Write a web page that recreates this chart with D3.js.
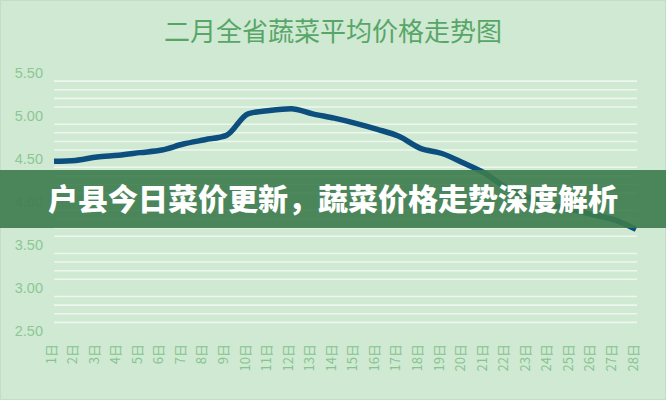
<!DOCTYPE html>
<html><head><meta charset="utf-8">
<script src="https://cdn.jsdelivr.net/npm/d3@7"></script>
<style>
html,body{margin:0;padding:0;background:#d0e9d3;}
svg{display:block;}
</style></head>
<body>
<svg id="chart" width="666" height="400"></svg>
<script>
const title = "二月全省蔬菜平均价格走势图";
const banner = "户县今日菜价更新，蔬菜价格走势深度解析";
const days = ["1日","2日","3日","4日","5日","6日","7日","8日","9日","10日","11日","12日","13日","14日","15日","16日","17日","18日","19日","20日","21日","22日","23日","24日","25日","26日","27日","28日"];
const prices = [4.47,4.48,4.52,4.54,4.57,4.60,4.67,4.72,4.77,5.02,5.06,5.08,5.02,4.97,4.91,4.84,4.76,4.62,4.56,4.45,4.33,4.16,4.05,3.97,3.91,3.85,3.79,3.68];
const yTicks = [2.5,3.0,3.5,4.0,4.5,5.0,5.5];
const minorTicks = [2.6,2.7,2.8,2.9,3.1,3.2,3.3,3.4,3.6,3.7,3.8,3.9,4.1,4.2,4.3,4.4,4.6,4.7,4.8,4.9,5.1,5.2,5.3,5.4];

const svg = d3.select("#chart");
const W = 666, H = 400;
svg.append("rect").attr("x",0.5).attr("y",0.5).attr("width",W-1).attr("height",H-1)
  .attr("fill","#d0e9d3").attr("stroke","#c6dcc8");

const x = d3.scalePoint().domain(days).range([54, 636]);
const y = d3.scaleLinear().domain([2.5, 5.5]).range([331, 72.5]);

// minor white gridlines
svg.append("g").selectAll("line").data(minorTicks).join("line")
  .attr("x1",54).attr("x2",637)
  .attr("y1",d=>y(d)).attr("y2",d=>y(d))
  .attr("stroke","#eef7ef").attr("stroke-width",1.6);

// y axis labels
const yAxis = d3.axisLeft(y).tickValues(yTicks).tickFormat(d3.format(".2f")).tickSize(0).tickPadding(0);
const gy = svg.append("g").attr("transform","translate(43,0)").call(yAxis);
gy.select(".domain").remove();
gy.selectAll("text").attr("fill","#8cc794").attr("font-family","'Liberation Sans',Arial,sans-serif")
  .attr("font-size","14.5px");

// x axis labels (vertical)
const gx = svg.append("g");
gx.selectAll("text").data(days).join("text")
  .attr("transform", d=>`translate(${x(d)-3},344) rotate(-90)`)
  .attr("text-anchor","end").attr("dy","0.35em")
  .attr("fill","#86c48f").attr("font-size","13px")
  .attr("font-family","'Noto Sans CJK SC','Liberation Sans',sans-serif")
  .text(d=>d);

// line
const line = d3.line().x((d,i)=>x(days[i])).y(d=>y(d)).curve(d3.curveMonotoneX);
svg.append("path").datum(prices).attr("d",line)
  .attr("fill","none").attr("stroke","#0c4f7e").attr("stroke-width",5.5)
  .attr("stroke-linejoin","round");

// title
svg.append("text").attr("x",333).attr("y",41).attr("text-anchor","middle")
  .attr("fill","#57a667").attr("font-size","26px").attr("font-weight",400)
  .attr("font-family","'Noto Sans CJK SC',sans-serif").text(title);

// banner
svg.append("rect").attr("x",0).attr("y",170).attr("width",W).attr("height",58)
  .attr("fill","#3c7b4d").attr("fill-opacity",0.9);
svg.append("text").attr("x",333).attr("y",210).attr("text-anchor","middle")
  .attr("fill","#ffffff").attr("font-size","30px").attr("font-weight",900)
  .attr("font-family","'Noto Sans CJK SC',sans-serif").text(banner);
</script>
</body></html>
